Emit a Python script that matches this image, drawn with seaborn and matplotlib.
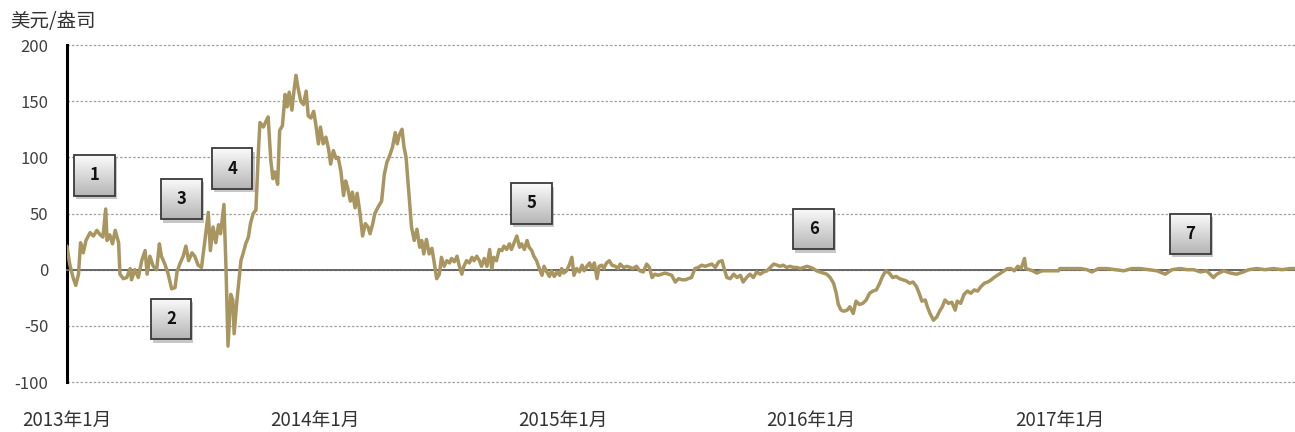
import matplotlib
matplotlib.use("Agg")
import matplotlib.pyplot as plt
import matplotlib.dates as mdates
import matplotlib.transforms as mtransforms
from matplotlib.patches import Rectangle
from matplotlib.colors import LinearSegmentedColormap
import numpy as np
import pandas as pd
import seaborn as sns

# days since 2013-01-01 and premium (USD/oz)
day_offset = [
    0, 4, 9, 13, 17, 20, 24, 28, 34, 39, 44, 49, 53, 57, 59, 63, 67, 71, 76, 78,
    83, 88, 93, 95, 100, 105, 110, 115, 118, 122, 127, 132, 136, 139, 144, 149,
    154, 159, 162, 166, 171, 175, 179, 184, 188, 193, 198,
    203, 208, 211, 215, 219, 223, 226, 231, 234, 237, 241, 244, 246, 250, 252,
    256, 259, 263, 267, 270, 274, 278, 282, 284, 289, 292, 296, 300, 303, 306,
    310, 313, 317, 321, 324, 327, 331, 334, 337, 340, 344, 348, 352, 355, 359,
    363, 366, 370, 373, 377, 381, 385, 388, 392, 396, 399, 403, 407, 410, 413,
    417, 420, 424, 427, 431, 435, 439, 443, 446, 450, 453, 458, 463, 467, 471,
    474, 479, 483, 486, 489, 493, 496, 499,
    504, 507, 511, 515, 519, 522, 525, 529, 533, 537, 540, 544, 548, 551, 555,
    559, 563, 566, 570, 574, 577, 581, 584, 588, 592, 596, 599, 603, 607, 610,
    614, 618, 622, 625, 628, 632, 636, 640, 643, 647, 651, 654, 658, 662, 666,
    669, 673, 677, 680, 684, 687, 691, 695, 699, 702, 706, 710, 713, 717, 721,
    725, 728, 731, 735, 739, 743, 746, 750, 754, 758, 761, 765, 769, 772, 776,
    780, 783, 787, 790, 794, 798, 802, 807, 811,
    814, 819, 824, 829, 833, 838, 843, 848, 853, 857, 861, 865, 870, 875, 880,
    885, 890, 895, 900, 905, 910, 914, 919, 924, 929, 934, 939, 944, 949, 954,
    959, 964, 967, 971, 976, 981, 986, 991, 995, 1000, 1005, 1010, 1015, 1020,
    1025, 1030, 1035, 1040, 1045, 1049, 1054, 1059, 1064, 1069, 1074, 1079,
    1084, 1089, 1094, 1098, 1103, 1108,
    1113, 1118, 1123, 1128, 1132, 1135, 1139, 1143, 1148, 1152, 1157, 1161,
    1166, 1171, 1176, 1181, 1186, 1191, 1196, 1200, 1205, 1210, 1215, 1220,
    1225, 1230, 1235, 1240, 1245, 1250, 1254, 1258, 1263, 1266, 1270, 1275,
    1280, 1284, 1288, 1292, 1297, 1302, 1307, 1310, 1315, 1320, 1325, 1330,
    1335, 1340, 1345, 1350, 1355, 1360, 1364, 1369, 1374, 1379, 1384, 1389,
    1394, 1399, 1404, 1409, 1411, 1416, 1421, 1427, 1435, 1442, 1452, 1459,
    1461, 1471, 1481, 1491, 1501, 1508, 1518, 1530, 1542, 1555, 1567, 1579,
    1591, 1604, 1616, 1626, 1638, 1648, 1658, 1668, 1677, 1687, 1692, 1702,
    1712, 1721, 1731, 1739, 1751, 1763, 1775, 1788, 1800, 1807,
]
premium = [
    21, 5, -7, -14, -4, 24, 15, 26, 33, 30, 35, 31, 29, 54, 26, 31, 23, 35, 24, -4,
    -8, -7, 1, -9, 0, -7, 8, 17, -4, 12, 3, 0, 23, 12, 5, -4,
    -17, -16, -2, 5, 12, 21, 8, 15, 12, 4, 2,
    26, 51, 17, 38, 24, 40, 32, 58, 2, -68, -22, -27, -57, -28, -16,
    8, 14, 23, 29, 41, 50, 53, 109, 131, 127, 131, 136, 97, 81, 87,
    76, 124, 128, 156, 145, 158, 142, 159, 173, 162, 150, 147, 159, 137, 135,
    141, 130, 112, 127, 112, 118, 107, 94, 106, 99, 100, 88, 66, 79, 73,
    61, 69, 55, 68, 51, 30, 41, 38, 32, 41, 50, 56, 61, 85, 96,
    100, 109, 122, 112, 120, 125, 109, 100,
    61, 38, 26, 36, 20, 26, 14, 27, 14, 19, 8, -8, -4, 11, 3,
    8, 6, 10, 7, 12, 4, -4, 3, 8, 6, 11, 8, 12, 8, 3,
    10, 3, 18, 1, 11, 8, 18, 17, 21, 18, 23, 18, 24, 30, 20,
    23, 18, 26, 20, 17, 12, 8, 1, -5, 3, -2, -6, -1, -6, -2,
    -5, 1, -3, -1, 4, 11, -5, 1, -2, 4, -1, 3, 6, 1, 6,
    -8, 3, 4, 1, 6, 8, 4, 3, 1,
    5, 2, 3, 2, 1, 3, -1, -2, 5, 2, -7, -4, -5, -4, -3,
    -4, -5, -11, -8, -9, -9, -8, -7, 1, 2, 4, 3, 4, 5, 2,
    7, 8, 1, -7, -8, -4, -7, -5, -11, -7, -4, -7, -2, -4,
    -2, -1, 2, 5, 4, 3, 4, 2, 3, 2, 2, 1,
    2, 3, 2, 1, -1, -2,
    -3, -4, -7, -12, -21, -31, -36, -37, -36, -33, -39, -28,
    -31, -30, -27, -21, -19, -18, -12, -6, -1, -3, -7, -6,
    -8, -9, -10, -12, -11, -15, -21, -28, -27, -33, -39, -45,
    -42, -37, -33, -27, -30, -29, -36, -28, -30, -22, -19, -21,
    -18, -19, -15, -12, -11, -9, -7, -5, -3, -1, 1, 1,
    -1, 3, 1, 10, 1, 0, -1, -3, -1, -1, -1, -1,
    1, 1, 1, 1, 0, -2, 1, 1, 0, -1, 1, 1,
    0, -1, -4, 0, 1, 0, 0, -2, -1, -7, -4, -1,
    -3, -4, -2, 0, 1, 0, 1, 0, 1, 1,
]

tick_years = ["2013-01-01", "2014-01-01", "2015-01-01", "2016-01-01", "2017-01-01"]
tick_labels = ["2013年1月", "2014年1月", "2015年1月", "2016年1月", "2017年1月"]

callout_labels = ["1", "2", "3", "4", "5", "6", "7"]
callout_days = [41, 153, 168, 243, 684, 1099, 1653]
callout_values = [84, -44, 63, 90, 59, 36, 32]

start = pd.Timestamp("2013-01-01")
df = pd.DataFrame({
    "date": start + pd.to_timedelta(day_offset, unit="D"),
    "premium": premium,
})

sns.set_style("white")
plt.rcParams["font.family"] = ["Noto Sans CJK SC", "DejaVu Sans"]
plt.rcParams["axes.unicode_minus"] = False

fig = plt.figure(figsize=(12.95, 4.32), dpi=100)
ax = fig.add_axes([0.0517, 0.1157, 0.9483, 0.7801])

sns.lineplot(data=df, x="date", y="premium", ax=ax, color="#A8955F",
             linewidth=2.5, estimator=None, sort=False, zorder=3)

x_left = mdates.date2num(start)
x_right = mdates.date2num(start + pd.Timedelta(days=day_offset[-1]))
ax.set_xlim(x_left, x_right)
ax.set_ylim(-100, 200)
ax.set_yticks(np.arange(-100, 201, 50))
ax.set_xlabel("")
ax.set_ylabel("")

ax.yaxis.grid(True, linestyle=(0, (2, 1.5)), color="#a0a0a0", linewidth=0.9)
ax.xaxis.grid(False)
for gl in ax.get_ygridlines():
    gl.set_clip_on(False)

for s in ["top", "right"]:
    ax.spines[s].set_visible(False)
ax.spines["left"].set_color("black")
ax.spines["left"].set_linewidth(2.2)
ax.spines["bottom"].set_position(("data", 0))
ax.spines["bottom"].set_color("#666666")
ax.spines["bottom"].set_linewidth(1.4)
ax.spines["bottom"].set_zorder(2.5)

ax.tick_params(axis="y", direction="out", length=4.5, width=1.8, color="black",
               labelsize=12, labelcolor="#404040", pad=9)
ax.set_xticks([mdates.date2num(pd.Timestamp(t)) for t in tick_years])
ax.tick_params(axis="x", direction="inout", length=9, width=1.2, color="#555555",
               labelbottom=False)

trans = mtransforms.blended_transform_factory(ax.transData, ax.transAxes)
for t, lab in zip(tick_years, tick_labels):
    ax.text(mdates.date2num(pd.Timestamp(t)), -0.115, lab, transform=trans,
            ha="center", va="center", fontsize=13.5, color="#333333")

# numbered call-out boxes
grad = np.linspace(0, 1, 64).reshape(-1, 1)
box_cmap = LinearSegmentedColormap.from_list("box", ["#fbfbfb", "#b5b5b5"])
box_w = 60
box_h = 36
for lab, d, v in zip(callout_labels, callout_days, callout_values):
    xc = mdates.date2num(start + pd.Timedelta(days=d))
    x0 = xc - box_w / 2
    y0 = v - box_h / 2
    ax.add_patch(Rectangle((x0 + 3, y0 - 3), box_w, box_h, facecolor="black",
                           alpha=0.22, edgecolor="none", zorder=5))
    ax.imshow(grad, extent=[x0, x0 + box_w, y0, y0 + box_h], aspect="auto",
              cmap=box_cmap, zorder=6)
    ax.add_patch(Rectangle((x0, y0), box_w, box_h, facecolor="none",
                           edgecolor="#3a3a3a", linewidth=1.3, zorder=7))
    ax.text(xc, v, lab, ha="center", va="center", fontsize=12,
            fontweight="bold", color="#111111", zorder=8)

ax.set_xlim(x_left, x_right)
ax.set_ylim(-100, 200)
ax.set_aspect("auto")

fig.text(10 / 1295, 1 - 21 / 432, "美元/盎司", ha="left", va="center",
         fontsize=14, color="#333333", style="italic")

fig.savefig("out.png", dpi=100)
